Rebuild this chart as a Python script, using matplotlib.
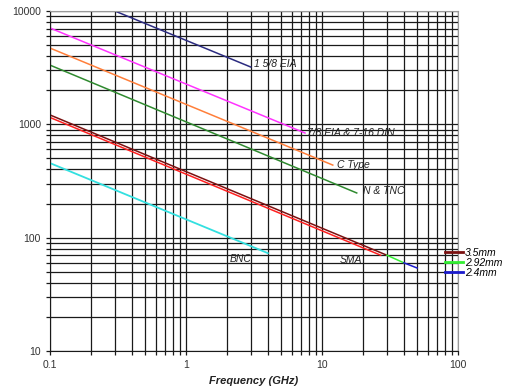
import matplotlib.pyplot as plt
import numpy as np

plt.rcParams['font.family'] = ['Liberation Sans', 'DejaVu Sans']

# endpoints (GHz, power)
eia158_f = [0.3, 3.0]
eia158_p = [10000, 3200]
eia78_f = [0.1, 7.5]
eia78_p = [7080, 838]
ctype_f = [0.1, 12]
ctype_p = [4710, 437]
ntnc_f = [0.1, 18]
ntnc_p = [3330, 248]
sma_f = [0.1, 27]
sma_p = [1150, 70]
mm35_f = [0.1, 30]
mm35_p = [1210, 70]
mm292_f = [30, 40]
mm292_p = [70, 60]
mm24_f = [40, 50]
mm24_p = [60, 54]
bnc_f = [0.1, 4]
bnc_p = [455, 73]

fig = plt.figure(figsize=(5.3, 3.9), dpi=100)
ax = fig.add_axes([50/530, 1-351/390, 408/530, 340/390])

ax.plot(eia158_f, eia158_p, color='#2b2b80', lw=1.1)
ax.plot(eia78_f, eia78_p, color='#ff33ff', lw=1.1)
ax.plot(ctype_f, ctype_p, color='#ff7f3a', lw=1.1)
ax.plot(ntnc_f, ntnc_p, color='#2f8a2f', lw=1.1)
ax.plot(mm35_f, mm35_p, color='#7a1010', lw=1.1, label='3.5mm')
ax.plot(sma_f, sma_p, color='#ff2020', lw=1.1)
ax.plot(mm292_f, mm292_p, color='#33ee33', lw=1.1, label='2.92mm')
ax.plot(mm24_f, mm24_p, color='#1a1acc', lw=1.1, label='2.4mm')
ax.plot(bnc_f, bnc_p, color='#33e0e0', lw=1.3)

ax.set_xscale('log')
ax.set_yscale('log')
ax.set_xlim(0.1, 100)
ax.set_ylim(10, 10000)

ax.grid(True, which='both', color='#1a1a1a', lw=0.9)
ax.set_axisbelow(True)
ax.tick_params(which='both', direction='out', length=3, width=0.9, color='#1a1a1a',
               labelsize=7.5, labelcolor='#333333')
ax.xaxis.set_major_formatter(plt.FuncFormatter(lambda v, p: '%g' % v))
ax.yaxis.set_major_formatter(plt.FuncFormatter(lambda v, p: '%g' % v))
ax.xaxis.set_minor_formatter(plt.NullFormatter())
ax.yaxis.set_minor_formatter(plt.NullFormatter())
for s in ['left', 'bottom']:
    ax.spines[s].set_color('#1a1a1a')
for s in ['top', 'right']:
    ax.spines[s].set_color('#999999')

ax.set_xlabel('Frequency (GHz)', fontsize=8, fontweight='bold', style='italic', color='#222222')

lab = dict(fontsize=7.5, style='italic', color='#222222', va='center')
ax.text(3.16, 3400, '1 5/8 EIA', **lab)
ax.text(7.8, 838, '7/8 EIA & 7-16 DIN', **lab)
ax.text(12.9, 437, 'C Type', **lab)
ax.text(20, 258, 'N & TNC', **lab)
ax.text(2.1, 65, 'BNC', **lab)
ax.text(13.5, 63, 'SMA', **lab)

leg = ax.legend(loc='upper left', bbox_to_anchor=(445/530, 1-248/390),
                bbox_transform=fig.transFigure, frameon=False,
                borderpad=0, borderaxespad=0, handlelength=1.7,
                handletextpad=0.2, labelspacing=0.0, prop={'style': 'italic', 'size': 7.5})
for h in leg.get_lines():
    h.set_linewidth(2)

fig.savefig('out.png', dpi=100)
